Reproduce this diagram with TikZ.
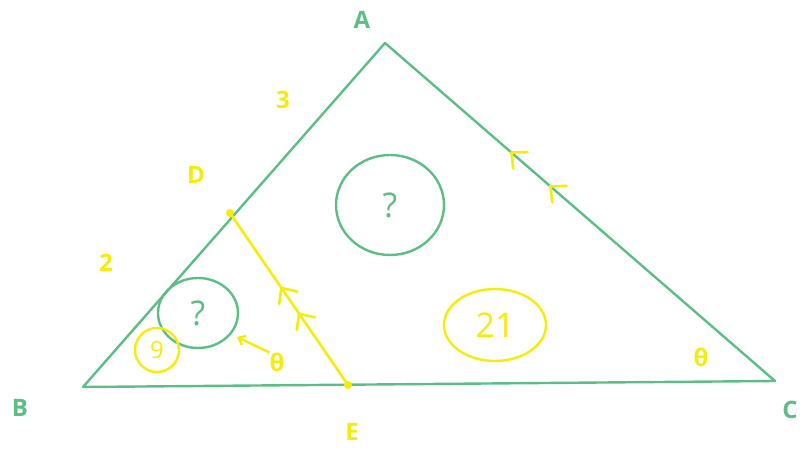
\documentclass[tikz,border=0pt]{standalone}
\usepackage{fontspec}
\setmainfont{Open Sans}
\usepackage{tikz}
\usetikzlibrary{arrows.meta,shapes.geometric,decorations.markings}
\definecolor{tgreen}{RGB}{92,190,132}
\definecolor{tyellow}{RGB}{245,236,10}

\begin{document}
\begin{tikzpicture}[
    x=1pt, y=1pt,
    lbl/.style={font=\fontsize{24}{28}\selectfont\bfseries, inner sep=0pt},
    glbl/.style={lbl, text=tgreen},
    ylbl/.style={lbl, text=tyellow},
    side/.style={draw=tgreen, line width=2.4pt, line join=round},
    seg/.style={draw=tyellow, line width=2.6pt},
    ring/.style={ellipse, draw, line width=2.4pt, inner sep=0pt,
                 font=\fontsize{34}{38}\selectfont},
    parmark/.style={postaction={decorate}, decoration={markings,
        mark=at position #1 with {\draw[tyellow, line width=2.6pt, line cap=round]
            (9pt,11pt) -- (-3pt,0pt) -- (9pt,-11pt);}}}
]
\useasboundingbox (0,0) rectangle (803,450);
% Vertices
\coordinate (A) at (385,407);
\coordinate (B) at (83,63);
\coordinate (C) at (775,69);
\coordinate (D) at (230,237);
\coordinate (E) at (348,65);
% Triangle
\draw[side] (A) -- (B) -- (C) -- cycle;
% parallel marks on AC
\path[parmark=0.33] (A) -- (C);
\path[parmark=0.43] (A) -- (C);
% Segment DE
\draw[seg, parmark=0.45] (D) -- (E);
\path[parmark=0.60] (D) -- (E);
\fill[tyellow] (D) circle (4pt);
\fill[tyellow] (E) circle (4pt);
% Vertex labels
\node[glbl] (lA) at (362,430) {A};
\node[glbl] (lB) at (20,42) {B};
\node[glbl] (lC) at (790,40) {C};
\node[ylbl] (lD) at (196,275) {D};
\node[ylbl] (lE) at (352,18) {E};
% Side lengths
\node[ylbl] (lAD) at (283,350) {3};
\node[ylbl] (lDB) at (106,187) {2};
% Regions
\node[ring, draw=tgreen, text=tgreen, minimum width=108, minimum height=100]
     (top) at (390,245) {?};
\node[ring, draw=tgreen, text=tgreen, minimum width=80, minimum height=70]
     (small) at (198,137) {?};
\node[ring, draw=tyellow, text=tyellow, minimum width=102, minimum height=72]
     (trap) at (495,125) {21};
\node[ring, draw=tyellow, text=tyellow, minimum width=44, minimum height=44,
      font=\fontsize{24}{28}\selectfont] (bde) at (157,100) {9};
% Angles
\node[ylbl] (thC) at (701,93) {θ};
\node[ylbl] (thE) at (277,88) {θ};
\coordinate (angE) at (237,113);
\draw[tyellow, line width=2.4pt, -{Straight Barb[length=6pt,width=10pt]}]
     (thE.north west) -- (angE);
\end{tikzpicture}
\end{document}
